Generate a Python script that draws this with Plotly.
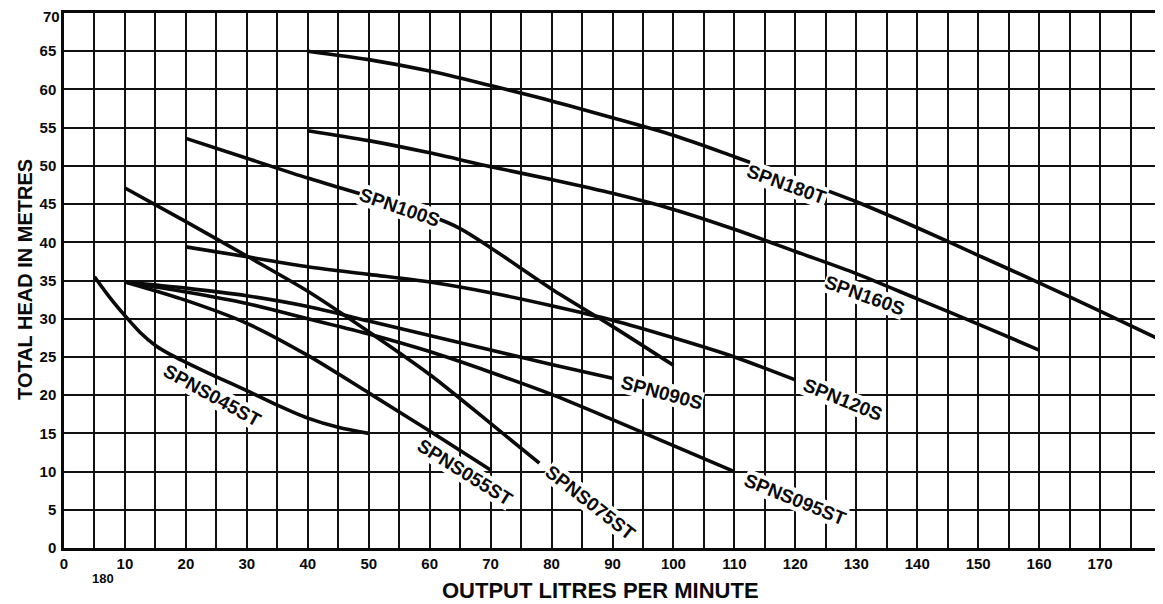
import plotly.graph_objects as go

# ---- data ----
spn180t_x = [40, 50, 60, 70, 80, 90, 100, 110, 120, 130, 140, 150, 160, 170, 180]
spn180t_y = [65.0, 63.9, 62.4, 60.5, 58.5, 56.3, 54.0, 51.2, 48.3, 45.3, 41.9, 38.3, 34.7, 31.0, 27.2]

spn160s_x = [40, 50, 60, 70, 80, 90, 100, 110, 120, 130, 140, 150, 160]
spn160s_y = [54.6, 53.3, 51.7, 49.9, 48.2, 46.4, 44.3, 41.7, 38.8, 35.9, 32.6, 29.3, 25.9]

spn100s_x = [20, 30, 40, 50, 60, 65, 70, 80, 90, 100]
spn100s_y = [53.6, 51.0, 48.4, 46.0, 43.5, 41.8, 39.3, 33.9, 29.0, 23.9]

spn120s_x = [20, 30, 40, 50, 60, 70, 80, 90, 100, 110, 120]
spn120s_y = [39.4, 38.1, 36.8, 35.8, 34.8, 33.4, 31.7, 29.8, 27.5, 25.0, 22.0]

spn090s_x = [10, 20, 30, 40, 50, 60, 70, 80, 90]
spn090s_y = [34.8, 34.0, 33.0, 31.6, 29.7, 27.8, 25.9, 24.0, 22.2]

spns095st_x = [10, 20, 30, 40, 50, 60, 70, 80, 90, 100, 110]
spns095st_y = [34.8, 33.5, 32.0, 30.0, 28.0, 25.7, 23.0, 20.1, 16.8, 13.4, 10.0]

spns075st_x = [10, 20, 30, 40, 50, 60, 70, 78]
spns075st_y = [47.1, 42.7, 38.2, 33.6, 28.3, 22.7, 16.3, 11.1]

spns055st_x = [10, 20, 30, 40, 50, 60, 70]
spns055st_y = [34.8, 32.4, 29.4, 25.2, 20.3, 15.3, 10.2]

spns045st_x = [5, 7.5, 10, 12.5, 15, 17.5, 20, 25, 30, 35, 40, 45, 50]
spns045st_y = [35.5, 32.8, 30.4, 28.2, 26.5, 25.3, 24.3, 22.4, 20.6, 18.7, 17.0, 15.8, 15.0]

x_tick_vals = [0, 10, 20, 30, 40, 50, 60, 70, 80, 90, 100, 110, 120, 130, 140, 150, 160, 170]
y_tick_vals = [0, 5, 10, 15, 20, 25, 30, 35, 40, 45, 50, 55, 60, 65]
y_top_label = "70"

series = [
    ("SPN180T", spn180t_x, spn180t_y),
    ("SPN160S", spn160s_x, spn160s_y),
    ("SPN100S", spn100s_x, spn100s_y),
    ("SPN120S", spn120s_x, spn120s_y),
    ("SPN090S", spn090s_x, spn090s_y),
    ("SPNS095ST", spns095st_x, spns095st_y),
    ("SPNS075ST", spns075st_x, spns075st_y),
    ("SPNS055ST", spns055st_x, spns055st_y),
    ("SPNS045ST", spns045st_x, spns045st_y),
]

# label placement (name, x, y, angle)
labels = [
    ("SPN180T", 118.6, 47.5, 20),
    ("SPN160S", 131.4, 33.1, 20),
    ("SPN100S", 55.1, 44.6, 19),
    ("SPN120S", 127.7, 19.4, 22),
    ("SPN090S", 98.0, 20.3, 15),
    ("SPNS095ST", 120.0, 6.3, 22),
    ("SPNS055ST", 65.8, 9.9, 32),
    ("SPNS075ST", 86.3, 5.9, 38),
    ("SPNS045ST", 24.3, 19.9, 29),
]

FONT = "Liberation Sans"
INK = "#0a0a0a"

fig = go.Figure()
for name, xs, ys in series:
    fig.add_trace(go.Scatter(
        x=xs, y=ys, mode="lines", name=name,
        line=dict(color=INK, width=3.6, shape="spline", smoothing=0.8),
        showlegend=False, hoverinfo="x+y+name",
    ))

for name, lx, ly, ang in labels:
    fig.add_annotation(
        x=lx, y=ly, xref="x", yref="y", text=name, showarrow=False,
        textangle=ang, xanchor="center", yanchor="middle",
        font=dict(family=FONT, size=19, color=INK, weight="bold"),
        bgcolor="white", borderpad=0,
    )

# axis titles, top y label and stray "180"
fig.add_annotation(
    x=0.489, y=0, xref="paper", yref="paper", yshift=-42,
    text="OUTPUT LITRES PER MINUTE", showarrow=False,
    xanchor="center", yanchor="middle",
    font=dict(family=FONT, size=22, color=INK, weight="bold"),
)
fig.add_annotation(
    x=0, y=0.501, xref="paper", yref="paper", xshift=-39,
    text="TOTAL HEAD IN METRES", showarrow=False, textangle=-90,
    xanchor="center", yanchor="middle",
    font=dict(family=FONT, size=20, color=INK, weight="bold"),
)
fig.add_annotation(
    x=0, y=1, xref="paper", yref="paper", xshift=-2, yshift=-3,
    text=y_top_label, showarrow=False, xanchor="right", yanchor="middle",
    font=dict(family=FONT, size=15, color=INK, weight="bold"),
)
fig.add_annotation(
    x=(103 - 64) / 1097, y=0, xref="paper", yref="paper", yshift=-30,
    text="180", showarrow=False, xanchor="center", yanchor="middle",
    font=dict(family=FONT, size=13, color=INK, weight="bold"),
)

axis_common = dict(
    showgrid=True, gridcolor="#111111", gridwidth=2,
    showline=True, linecolor=INK, linewidth=2.5, mirror=True,
    zeroline=False, ticks="", automargin=False,
    tickfont=dict(family=FONT, size=15, color=INK, weight="bold"),
)

fig.update_xaxes(
    range=[0, 180], tickmode="array", tickvals=x_tick_vals,
    minor=dict(dtick=5, showgrid=True, gridcolor="#111111", gridwidth=2),
    **axis_common,
)
fig.update_yaxes(
    range=[0, 70], tickmode="array", tickvals=y_tick_vals,
    ticklabelstandoff=2,
    **axis_common,
)

# the page adds an 8px body margin, so the figure is shrunk to compensate
fig.update_layout(
    width=1155, height=596,
    margin=dict(l=56, r=2, t=5, b=56),
    paper_bgcolor="white", plot_bgcolor="white",
)

fig.write_html("out.html")
